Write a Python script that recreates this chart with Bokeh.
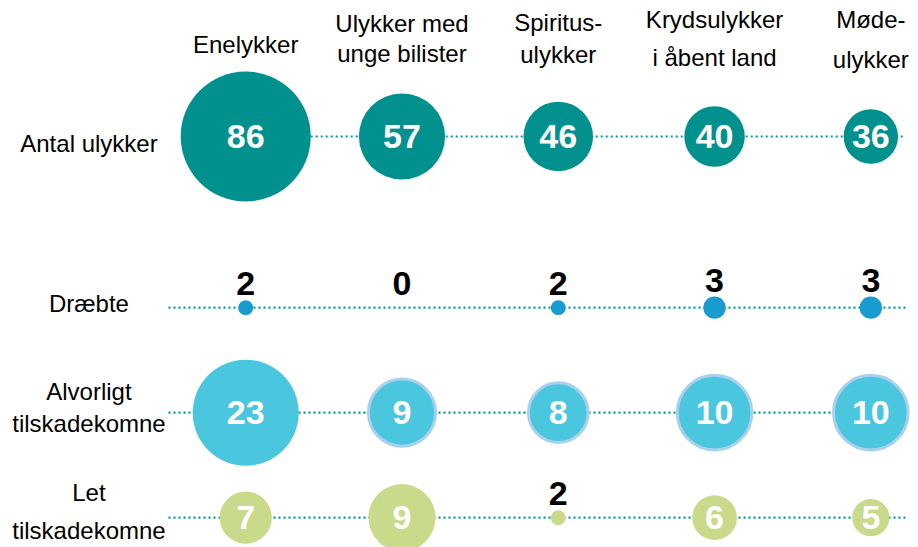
from bokeh.plotting import figure
from bokeh.models import ColumnDataSource, Range1d
from bokeh.core.properties import value
from bokeh.embed import file_html
from bokeh.resources import INLINE

# ---------------- data ----------------
categories = ["Enelykker", "Ulykker med\nunge bilister", "Spiritus-\nulykker",
              "Krydsulykker\ni åbent land", "Møde-\nulykker"]
row_labels = ["Antal ulykker", "Dræbte", "Alvorligt\ntilskadekomne", "Let\ntilskadekomne"]
antal_ulykker = [86, 57, 46, 40, 36]
draebte = [2, 0, 2, 3, 3]
alvorligt_tilskadekomne = [23, 9, 8, 10, 10]
let_tilskadekomne = [7, 9, 2, 6, 5]
rows = [antal_ulykker, draebte, alvorligt_tilskadekomne, let_tilskadekomne]

# ---------------- layout / style ----------------
W, H = 918, 547
FONT = "Liberation Sans"
ROW_COLORS = ["#00918E", "#1A9BD0", "#4BC6DF", "#C9DA8B"]
OUTLINE = [None, None, "#A9D1EE", None]
SCALE = [0.756, 3.73, 3.73, 3.73]   # screen px of radius per unit
MAX_R = 53
GROUP_GAP = 0.63
Y_TOP, Y_BOT = -1.295, 3.914
X_LEFT, X_RIGHT = -1.569, 4.305
PX = H / (Y_BOT - Y_TOP)            # screen px per y unit
row_y = [i + (GROUP_GAP if i > 0 else 0) for i in range(len(rows))]
HEADER_Y = -0.905
HEADER_DY = [3, -3, -3, -3, -2]
HEADER_LH = [1.2, 1.08, 1.17, 1.42, 1.48]
LABEL_X = -1.003
LABEL_DY = [7, -4, -5, -6]
LABEL_LH = [1.2, 1.2, 1.2, 1.4]
LINE_X0 = [0.0, -0.494, -0.494, -0.494]
LINE_X1 = 4.221

p = figure(width=W, height=H, x_range=Range1d(X_LEFT, X_RIGHT), y_range=Range1d(Y_BOT, Y_TOP),
           output_backend="svg", toolbar_location=None, min_border=0,
           x_axis_location=None, y_axis_location=None)
p.grid.visible = False
p.outline_line_color = None
p.background_fill_color = "white"
p.border_fill_color = "white"

# dotted row lines
p.segment(x0=LINE_X0, x1=[LINE_X1] * len(rows), y0=row_y, y1=row_y,
          line_color="#00999A", line_width=2.2, line_dash="2 3")

# bubbles
xs, ys, rs, fills, lcols, lalphas, txt = [], [], [], [], [], [], []
for ri, vals in enumerate(rows):
    for ci, v in enumerate(vals):
        r = v * SCALE[ri]
        capped = ri > 0 and r > MAX_R
        r = min(r, MAX_R) if ri > 0 else r
        xs.append(ci)
        ys.append(row_y[ri])
        rs.append(r)
        fills.append(ROW_COLORS[ri])
        lcols.append(OUTLINE[ri] or ROW_COLORS[ri])
        lalphas.append(1.0 if (OUTLINE[ri] and not capped) else 0.0)
        txt.append(str(v))

src = ColumnDataSource(dict(x=xs, y=ys, size=[2 * r for r in rs], fill=fills,
                            lc=lcols, la=lalphas))
p.scatter(x="x", y="y", size="size", source=src, fill_color="fill",
          line_color="lc", line_alpha="la", line_width=3)

inside = [i for i, r in enumerate(rs) if r >= 15]
outside = [i for i, r in enumerate(rs) if r < 15]
src_in = ColumnDataSource(dict(x=[xs[i] for i in inside], y=[ys[i] for i in inside],
                               text=[txt[i] for i in inside]))
src_out = ColumnDataSource(dict(x=[xs[i] for i in outside],
                                y=[ys[i] - (max(rs[i], 8) + 16) / PX for i in outside],
                                text=[txt[i] for i in outside]))
p.text(x="x", y="y", text="text", source=src_in, text_font=value(FONT),
       text_font_size=value("34px"), text_font_style="bold", text_color="white",
       text_align="center", text_baseline="middle")
p.text(x="x", y="y", text="text", source=src_out, text_font=value(FONT),
       text_font_size=value("34px"), text_font_style="bold", text_color="black",
       text_align="center", text_baseline="middle")

# column headers
hsrc = ColumnDataSource(dict(x=list(range(len(categories))),
                             y=[HEADER_Y + d / PX for d in HEADER_DY],
                             text=categories, lh=HEADER_LH))
p.text(x="x", y="y", text="text", source=hsrc, text_font=value(FONT),
       text_font_size=value("24px"), text_color="black", text_align="center",
       text_baseline="middle", text_line_height="lh")

# row labels
lsrc = ColumnDataSource(dict(x=[LABEL_X] * len(row_labels),
                             y=[y + d / PX for y, d in zip(row_y, LABEL_DY)],
                             text=row_labels, lh=LABEL_LH))
p.text(x="x", y="y", text="text", source=lsrc, text_font=value(FONT),
       text_font_size=value("24px"), text_color="black", text_align="center",
       text_baseline="middle", text_line_height="lh")

open("out.html", "w").write(file_html(p, INLINE))
